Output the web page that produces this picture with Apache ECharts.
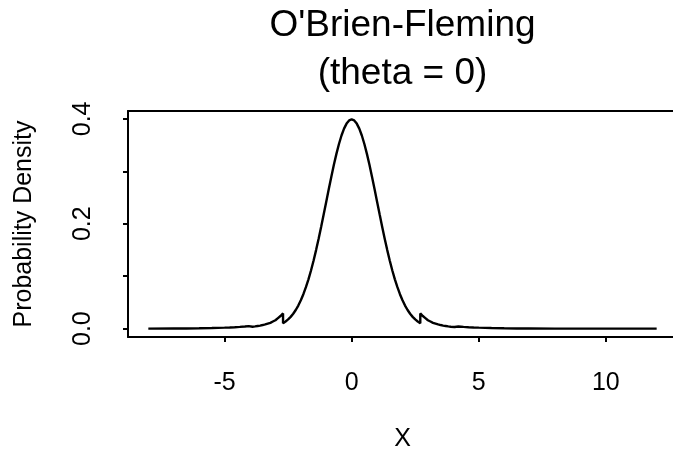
<!DOCTYPE html>
<html>
<head>
<meta charset="utf-8">
<script src="https://cdn.jsdelivr.net/npm/echarts@6/dist/echarts.min.js"></script>
<style>
  html, body { margin: 0; padding: 0; background: #ffffff; }
  #chart { width: 673px; height: 451px; }
</style>
</head>
<body>
<div id="chart"></div>
<script>
// Title lines and axis labelling
const titleLines = ["O'Brien-Fleming", "(theta = 0)"];
const xAxisTitle = 'X';
const yAxisTitle = 'Probability Density';
const xTicks = [-5, 0, 5, 10];
const yTicks = [0, 0.1, 0.2, 0.3, 0.4];
const yTickLabels = [0, 0.2, 0.4];

// Density of the test statistic; repeated x values mark the jumps at the stopping boundaries
const xValues = [
  -8, -7, -6.5, -6, -5.5, -5, -4.8, -4.6, -4.4, -4.2, -4.05, -4.05,
  -3.9, -3.8, -3.7, -3.6, -3.5, -3.4, -3.3, -3.2, -3.1, -3.0, -2.9, -2.8, -2.7, -2.7,
  -2.6, -2.5, -2.4, -2.3, -2.2, -2.1, -2.0, -1.9, -1.8, -1.7, -1.6, -1.5, -1.4, -1.3,
  -1.2, -1.1, -1.0, -0.9, -0.8, -0.7, -0.6, -0.5, -0.4, -0.3, -0.2, -0.1, 0,
  0.1, 0.2, 0.3, 0.4, 0.5, 0.6, 0.7, 0.8, 0.9, 1.0, 1.1, 1.2, 1.3, 1.4, 1.5,
  1.6, 1.7, 1.8, 1.9, 2.0, 2.1, 2.2, 2.3, 2.4, 2.5, 2.6, 2.7, 2.7,
  2.8, 2.9, 3.0, 3.1, 3.2, 3.3, 3.4, 3.5, 3.6, 3.7, 3.8, 3.9, 4.05, 4.05,
  4.2, 4.4, 4.6, 4.8, 5, 5.5, 6, 6.5, 7, 8, 9, 10, 11, 12
];
const densityValues = [
  0.0000, 0.0002, 0.0003, 0.0006, 0.0011, 0.0018, 0.0022, 0.0027, 0.0033, 0.0040, 0.0048, 0.0030,
  0.0036, 0.0042, 0.0050, 0.0058, 0.0068, 0.0080, 0.0095, 0.0110, 0.0135, 0.0160, 0.0200, 0.0240, 0.0290, 0.0104,
  0.0136, 0.0175, 0.0224, 0.0283, 0.0355, 0.0440, 0.0540, 0.0656, 0.0790, 0.0940, 0.1109, 0.1295, 0.1497, 0.1714,
  0.1942, 0.2179, 0.2420, 0.2661, 0.2897, 0.3123, 0.3332, 0.3521, 0.3683, 0.3814, 0.3910, 0.3970, 0.3989,
  0.3970, 0.3910, 0.3814, 0.3683, 0.3521, 0.3332, 0.3123, 0.2897, 0.2661, 0.2420, 0.2179, 0.1942, 0.1714, 0.1497, 0.1295,
  0.1109, 0.0940, 0.0790, 0.0656, 0.0540, 0.0440, 0.0355, 0.0283, 0.0224, 0.0175, 0.0136, 0.0104, 0.0290,
  0.0240, 0.0200, 0.0160, 0.0135, 0.0110, 0.0095, 0.0080, 0.0068, 0.0058, 0.0050, 0.0042, 0.0036, 0.0030, 0.0048,
  0.0040, 0.0033, 0.0027, 0.0022, 0.0018, 0.0011, 0.0006, 0.0003, 0.0002, 0.0000, 0.0000, 0.0000, 0.0000, 0.0000
];

const FONT = '"Liberation Sans", Arial, Helvetica, sans-serif';
const INK = '#000000';
const X_MIN = -8.8, X_MAX = 12.8;
const AXIS_FONT = 25;

// Plot region (its right edge runs just past the canvas)
const plotLeft = 128, plotTop = 111, plotWidth = 549, plotHeight = 226;

const chart = echarts.init(document.getElementById('chart'), null, { renderer: 'canvas' });

const boxLine = { show: true, onZero: false, lineStyle: { color: INK, width: 2 } };

chart.setOption({
  animation: false,
  backgroundColor: '#ffffff',
  graphic: titleLines.map((line, i) => ({
    type: 'text',
    x: plotLeft + plotWidth / 2,
    y: 26 + i * 48,
    style: {
      text: line,
      fill: INK,
      fontSize: 37,
      fontFamily: FONT,
      align: 'center',
      verticalAlign: 'middle'
    }
  })),
  grid: {
    left: plotLeft,
    top: plotTop,
    width: plotWidth,
    height: plotHeight,
    outerBoundsMode: 'none',
    containLabel: false,
    show: false
  },
  xAxis: [{
    type: 'value',
    position: 'bottom',
    min: X_MIN,
    max: X_MAX,
    name: xAxisTitle,
    nameLocation: 'middle',
    nameGap: 90,
    nameTextStyle: { color: INK, fontSize: AXIS_FONT, fontFamily: FONT },
    axisLine: boxLine,
    splitLine: { show: false },
    axisTick: { show: true, customValues: xTicks, length: 5, lineStyle: { color: INK, width: 2 } },
    axisLabel: {
      customValues: xTicks,
      color: INK,
      fontSize: AXIS_FONT,
      fontFamily: FONT,
      margin: 34,
      formatter: v => String(v)
    }
  }, {
    // top edge of the plot box
    type: 'value',
    position: 'top',
    min: X_MIN,
    max: X_MAX,
    axisLine: boxLine,
    axisTick: { show: false },
    axisLabel: { show: false },
    splitLine: { show: false }
  }],
  yAxis: {
    type: 'value',
    position: 'left',
    min: -0.016,
    max: 0.415,
    name: yAxisTitle,
    nameLocation: 'middle',
    nameGap: 91,
    nameRotate: 90,
    nameTextStyle: { color: INK, fontSize: AXIS_FONT, fontFamily: FONT },
    axisLine: boxLine,
    splitLine: { show: false },
    axisTick: { show: true, customValues: yTicks, length: 5, lineStyle: { color: INK, width: 2 } },
    axisLabel: {
      customValues: yTickLabels,
      color: INK,
      fontSize: AXIS_FONT,
      fontFamily: FONT,
      rotate: 90,
      margin: 32,
      align: 'center',
      verticalAlign: 'bottom',
      formatter: v => v.toFixed(1)
    }
  },
  series: [{
    type: 'line',
    xAxisIndex: 0,
    data: xValues.map((x, i) => [x, densityValues[i]]),
    showSymbol: false,
    symbol: 'none',
    smooth: false,
    clip: true,
    lineStyle: { color: INK, width: 2.4 }
  }]
});
</script>
</body>
</html>
